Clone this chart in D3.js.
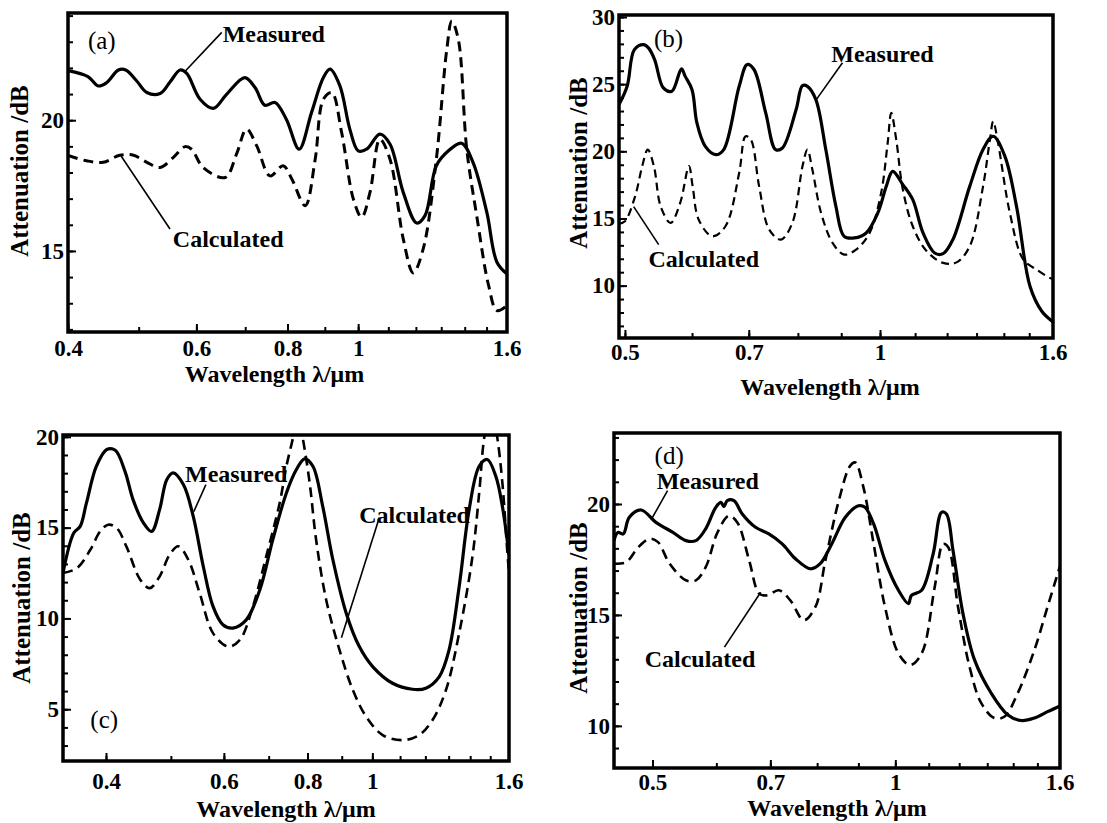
<!DOCTYPE html>
<head>
  <meta charset="utf-8">
  <title>Attenuation spectra</title>
  <script src="https://cdn.jsdelivr.net/npm/d3@7"></script>
  <style>
    body { margin: 0; background: #fff; }
    text { font-family: "Liberation Serif", "Times New Roman", serif; font-weight: bold; fill: #000; }
  </style>
</head>
<body>
<script>
// ---- data (wavelength in um, attenuation in dB) ----
var aMeasured = [[0.4,21.9],[0.426,21.67],[0.440,21.31],[0.452,21.44],[0.469,21.92],[0.480,21.92],[0.497,21.5],[0.513,21.06],[0.535,21.02],[0.552,21.46],[0.570,21.92],[0.582,21.79],[0.607,20.80],[0.633,20.45],[0.660,20.99],[0.699,21.63],[0.722,21.25],[0.745,20.57],[0.769,20.68],[0.797,20.04],[0.830,18.89],[0.863,20.29],[0.896,21.63],[0.915,21.95],[0.944,21.31],[0.974,19.66],[1.0,18.83],[1.027,18.89],[1.071,19.47],[1.106,19.08],[1.153,17.24],[1.203,16.07],[1.235,16.35],[1.280,18.26],[1.330,18.83],[1.386,19.12],[1.437,18.39],[1.501,16.48],[1.550,14.57],[1.6,14.12]];
var aCalculated = [[0.4,18.65],[0.424,18.45],[0.447,18.39],[0.471,18.66],[0.492,18.66],[0.513,18.39],[0.535,18.19],[0.558,18.58],[0.579,18.99],[0.591,18.89],[0.613,18.19],[0.657,17.81],[0.681,18.70],[0.703,19.66],[0.726,19.02],[0.757,17.87],[0.789,18.26],[0.811,17.75],[0.846,16.73],[0.873,18.5],[0.896,20.80],[0.920,21.06],[0.949,19.54],[0.985,16.98],[1.011,16.29],[1.038,17.24],[1.071,19.27],[1.106,18.5],[1.153,15.46],[1.19,14.16],[1.228,15.08],[1.280,18.51],[1.323,22.71],[1.344,23.79],[1.372,23.09],[1.409,18.89],[1.454,16.35],[1.510,13.67],[1.550,12.72],[1.6,12.91]];

var bMeasured = [[0.492,23.48],[0.503,24.84],[0.513,27.57],[0.526,27.94],[0.533,27.70],[0.542,26.83],[0.555,24.72],[0.568,24.47],[0.583,26.14],[0.589,25.58],[0.600,24.59],[0.608,22.11],[0.622,20.37],[0.640,19.75],[0.654,20.13],[0.682,24.84],[0.697,26.46],[0.710,26.09],[0.733,22.86],[0.753,20.13],[0.767,20.25],[0.796,23.1],[0.810,24.89],[0.821,24.84],[0.840,23.85],[0.863,20.13],[0.887,15.90],[0.907,13.67],[0.933,13.55],[0.963,13.92],[0.994,15.41],[1.017,17.39],[1.035,18.51],[1.064,17.52],[1.093,16.40],[1.124,13.92],[1.160,12.43],[1.187,12.38],[1.219,13.43],[1.276,17.39],[1.323,20.13],[1.360,21.12],[1.404,19.63],[1.449,15.90],[1.503,9.95],[1.552,8.09],[1.6,7.3]];
var bCalculated = [[0.492,14.6],[0.500,14.79],[0.514,16.65],[0.524,18.88],[0.532,20.13],[0.541,18.88],[0.551,15.90],[0.566,14.67],[0.581,16.16],[0.595,18.9],[0.601,17.39],[0.611,14.91],[0.634,13.67],[0.657,14.42],[0.682,18.39],[0.694,21.12],[0.704,20.87],[0.720,17.39],[0.740,14.17],[0.764,13.43],[0.788,14.67],[0.810,18.88],[0.821,20.13],[0.832,18.64],[0.852,15.41],[0.879,13.18],[0.907,12.31],[0.937,12.68],[0.972,13.92],[1.003,16.90],[1.021,20.63],[1.031,22.86],[1.045,20.87],[1.064,17.15],[1.093,14.42],[1.134,12.6],[1.187,11.69],[1.231,11.73],[1.276,12.93],[1.323,17.39],[1.348,20.87],[1.360,22.23],[1.378,20.63],[1.423,15.41],[1.476,11.94],[1.531,11.19],[1.587,10.57],[1.6,10.5]];

var cMeasured = [[0.345,12.5],[0.358,14.70],[0.366,15.07],[0.374,16.36],[0.387,18.38],[0.401,19.30],[0.413,19.26],[0.427,18.10],[0.439,16.54],[0.455,15.26],[0.468,14.79],[0.481,15.99],[0.493,17.64],[0.504,18.01],[0.522,17.37],[0.540,15.62],[0.559,12.86],[0.578,10.66],[0.598,9.65],[0.619,9.47],[0.648,9.92],[0.679,11.58],[0.710,14.34],[0.744,16.91],[0.770,18.20],[0.792,18.79],[0.815,18.38],[0.843,16.17],[0.873,13.23],[0.914,10.29],[0.956,8.45],[1.001,7.35],[1.072,6.43],[1.148,6.10],[1.202,6.16],[1.259,6.80],[1.302,8.27],[1.348,11.76],[1.395,15.99],[1.444,18.38],[1.485,18.75],[1.529,17.83],[1.564,16.17],[1.6,13.5]];
var cCalculated = [[0.345,12.5],[0.362,12.77],[0.379,13.78],[0.392,14.79],[0.403,15.16],[0.415,14.98],[0.429,13.97],[0.450,12.13],[0.465,11.67],[0.481,12.31],[0.498,13.51],[0.513,13.97],[0.531,13.23],[0.552,11.40],[0.578,9.19],[0.609,8.45],[0.634,8.82],[0.663,10.66],[0.694,13.41],[0.727,16.36],[0.744,18.38],[0.761,19.94],[0.774,21.3],[0.787,19.94],[0.806,17.46],[0.824,14.34],[0.853,11.03],[0.893,8.27],[0.935,6.06],[0.979,4.59],[1.036,3.58],[1.110,3.30],[1.175,3.58],[1.230,4.41],[1.288,6.06],[1.348,9.19],[1.411,13.41],[1.444,16.91],[1.469,19.94],[1.503,21.8],[1.537,19.94],[1.564,17.46],[1.59,13.78],[1.6,12.5]];

var dMeasured = [[0.448,18.35],[0.453,18.72],[0.460,18.65],[0.468,19.40],[0.484,19.73],[0.505,19.17],[0.530,18.72],[0.550,18.35],[0.566,18.35],[0.582,18.88],[0.599,19.85],[0.608,20.07],[0.613,19.88],[0.619,20.15],[0.631,20.15],[0.646,19.55],[0.671,18.95],[0.697,18.65],[0.724,18.2],[0.752,17.53],[0.785,17.08],[0.807,17.31],[0.834,18.2],[0.867,19.40],[0.900,19.92],[0.917,19.85],[0.940,19.10],[0.971,17.45],[1.009,16.11],[1.038,15.51],[1.047,15.88],[1.078,16.11],[1.114,17.75],[1.141,19.62],[1.157,19.55],[1.179,17.9],[1.213,15.06],[1.254,12.96],[1.315,11.47],[1.379,10.49],[1.432,10.24],[1.487,10.35],[1.544,10.64],[1.6,10.9]];
var dCalculated = [[0.448,17.31],[0.464,17.38],[0.480,18.05],[0.496,18.43],[0.508,18.28],[0.525,17.31],[0.550,16.56],[0.566,16.56],[0.582,17.15],[0.602,18.72],[0.622,19.47],[0.637,19.17],[0.659,17.45],[0.678,15.96],[0.694,15.88],[0.717,16.11],[0.741,15.66],[0.770,14.76],[0.796,15.36],[0.819,17.45],[0.851,20.15],[0.879,21.72],[0.892,21.87],[0.913,20.75],[0.940,18.20],[0.971,15.36],[1.009,13.26],[1.043,12.74],[1.078,13.26],[1.119,16.26],[1.146,18.20],[1.163,18.05],[1.196,15.36],[1.236,12.66],[1.278,11.02],[1.327,10.35],[1.366,10.42],[1.418,11.47],[1.487,13.41],[1.544,15.36],[1.6,17.2]];

// tick labels
var abXLabels = [0.4, 0.6, 0.8, 1, 1.6];
var bdXLabels = [0.5, 0.7, 1, 1.6];
var aYLabels = [15, 20];
var bYLabels = [10, 15, 20, 25, 30];
var cYLabels = [5, 10, 15, 20];
var dYLabels = [10, 15, 20];

// annotations: [text, labelX, labelY, leaderFromX, leaderFromY, leaderToX, leaderToY] (data units)
var aNotes = [["Measured", 0.652, 22.98, 0.579, 21.87, 0.650, 23.36], ["Calculated", 0.557, 15.15, 0.473, 18.63, 0.552, 15.84]];
var bNotes = [["Measured", 0.876, 26.68, 0.841, 23.85, 0.903, 26.6], ["Calculated", 0.533, 11.41, 0.512, 15.88, 0.548, 13.05]];
var cNotes = [["Measured", 0.525, 17.53, 0.541, 15.88, 0.564, 17.37], ["Calculated", 0.956, 15.27, 0.899, 8.93, 1.024, 15.55]];
var dNotes = [["Measured", 0.506, 20.69, 0.499, 19.34, 0.522, 20.6], ["Calculated", 0.489, 12.65, 0.614, 13.55, 0.681, 16.02]];

var svg = d3.select("body").append("svg")
    .attr("width", 1107)
    .attr("height", 823)
    .style("background", "#fff");

function drawPanel(p) {
    var x = d3.scaleLog().domain(p.xDomain).range([p.left, p.right]);
    var y = d3.scaleLinear().domain(p.yDomain).range([p.bottom, p.top]);
    var g = svg.append("g");

    g.append("clipPath").attr("id", "clip-" + p.id)
        .append("rect")
        .attr("x", p.left).attr("y", p.top)
        .attr("width", p.right - p.left).attr("height", p.bottom - p.top);

    // minor ticks every 0.1 um and every 1 dB
    var minorX = d3.range(1, 17).map(k => k / 10)
        .filter(v => v > p.xDomain[0] + 0.001 && v < p.xDomain[1] - 0.001);
    var minorY = d3.range(Math.ceil(p.yDomain[0]), Math.floor(p.yDomain[1]) + 1);

    var styleAxis = function(sel) {
        sel.select(".domain").remove();
        sel.selectAll("line").attr("stroke", "#000").attr("stroke-width", 2);
        sel.selectAll("text").style("font-size", "23px").attr("fill", "#000");
    };

    g.append("g").attr("transform", "translate(0," + p.bottom + ")")
        .call(d3.axisBottom(x).tickValues(minorX).tickSize(-5).tickFormat(""))
        .call(styleAxis);
    g.append("g").attr("transform", "translate(0," + p.bottom + ")")
        .call(d3.axisBottom(x).tickValues(p.xLabels.filter(v => v < p.xDomain[1]))
            .tickSize(-8).tickPadding(p.xPad).tickFormat(d3.format("~g")))
        .call(styleAxis);
    // right-most label sits on the frame edge
    g.append("text")
        .attr("x", x(p.xDomain[1]))
        .attr("y", p.bottom + p.xPad)
        .attr("dy", "0.71em")
        .attr("text-anchor", "middle")
        .style("font-size", "23px")
        .text(d3.format("~g")(p.xDomain[1]));

    g.append("g").attr("transform", "translate(" + p.left + ",0)")
        .call(d3.axisLeft(y).tickValues(minorY).tickSize(-5).tickFormat(""))
        .call(styleAxis);
    g.append("g").attr("transform", "translate(" + p.left + ",0)")
        .call(d3.axisLeft(y).tickValues(p.yLabels).tickSize(-8).tickPadding(4))
        .call(styleAxis);

    // curves
    var line = d3.line()
        .x(d => x(d[0]))
        .y(d => y(d[1]))
        .curve(d3.curveCatmullRom.alpha(0.5));

    var curves = g.append("g").attr("clip-path", "url(#clip-" + p.id + ")");
    curves.append("path")
        .attr("d", line(p.calculated))
        .attr("fill", "none")
        .attr("stroke", "#000")
        .attr("stroke-width", p.dashWidth)
        .attr("stroke-dasharray", p.dash);
    curves.append("path")
        .attr("d", line(p.measured))
        .attr("fill", "none")
        .attr("stroke", "#000")
        .attr("stroke-width", 3.2)
        .attr("stroke-linejoin", "round");

    // frame
    g.append("rect")
        .attr("x", p.left).attr("y", p.top)
        .attr("width", p.right - p.left).attr("height", p.bottom - p.top)
        .attr("fill", "none")
        .attr("stroke", "#000")
        .attr("stroke-width", 3.5);

    // annotations
    p.notes.forEach(function(n) {
        g.append("line")
            .attr("x1", x(n[3])).attr("y1", y(n[4]))
            .attr("x2", x(n[5])).attr("y2", y(n[6]))
            .attr("stroke", "#000")
            .attr("stroke-width", 1.6);
        g.append("text")
            .attr("x", x(n[1])).attr("y", y(n[2]))
            .style("font-size", "24px")
            .text(n[0]);
    });
    g.append("text")
        .attr("x", x(p.tag[1])).attr("y", y(p.tag[2]))
        .style("font-size", "25px")
        .style("font-weight", "normal")
        .text(p.tag[0]);

    // axis titles
    g.append("text")
        .attr("x", (p.left + p.right) / 2 + p.xTitleShift)
        .attr("y", p.bottom + p.xTitleGap)
        .attr("text-anchor", "middle")
        .style("font-size", "24px")
        .text("Wavelength \u03bb/\u03bcm");
    g.append("text")
        .attr("transform", "translate(" + (p.left - p.yTitleGap) + "," + p.yTitleMid + ") rotate(-90)")
        .attr("text-anchor", "middle")
        .style("font-size", "25px")
        .text("Attenuation /dB");
}

drawPanel({ id: "a", left: 68, right: 507, top: 13, bottom: 332,
    xDomain: [0.4, 1.6], yDomain: [11.9, 24.1],
    xLabels: abXLabels, yLabels: aYLabels, xPad: 8, xTitleGap: 50, xTitleShift: -13,
    yTitleGap: 40, yTitleMid: 171, dash: "10,6", dashWidth: 3,
    measured: aMeasured, calculated: aCalculated, notes: aNotes, tag: ["(a)", 0.426, 22.71] });

drawPanel({ id: "b", left: 619, right: 1053, top: 15, bottom: 338,
    xDomain: [0.492, 1.6], yDomain: [6.1, 30.15],
    xLabels: bdXLabels, yLabels: bYLabels, xPad: 6, xTitleGap: 57, xTitleShift: -6,
    yTitleGap: 32, yTitleMid: 163, dash: "8,5", dashWidth: 2.2,
    measured: bMeasured, calculated: bCalculated, notes: bNotes, tag: ["(b)", 0.541, 27.8] });

drawPanel({ id: "c", left: 63, right: 509, top: 435, bottom: 761,
    xDomain: [0.345, 1.6], yDomain: [2.15, 20.1],
    xLabels: abXLabels, yLabels: cYLabels, xPad: 12, xTitleGap: 56, xTitleShift: 0,
    yTitleGap: 33, yTitleMid: 598, dash: "10,6", dashWidth: 2.6,
    measured: cMeasured, calculated: cCalculated, notes: cNotes, tag: ["(c)", 0.379, 3.97] });

drawPanel({ id: "d", left: 614, right: 1060, top: 433, bottom: 768,
    xDomain: [0.448, 1.6], yDomain: [8.1, 23.2],
    xLabels: bdXLabels, yLabels: dYLabels, xPad: 6, xTitleGap: 48, xTitleShift: 0,
    yTitleGap: 27, yTitleMid: 608, dash: "10,6", dashWidth: 2.6,
    measured: dMeasured, calculated: dCalculated, notes: dNotes, tag: ["(d)", 0.503, 21.81] });
</script>
</body>
